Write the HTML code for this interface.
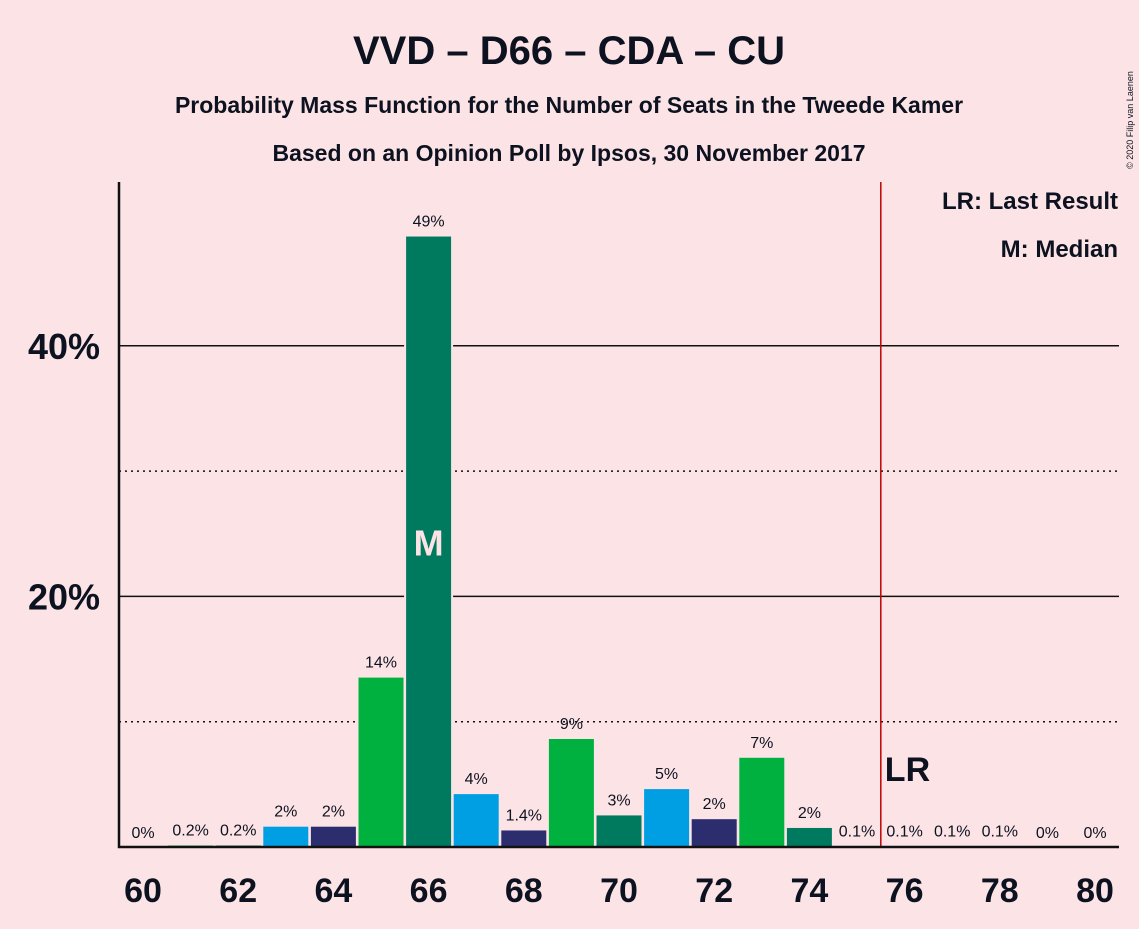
<!DOCTYPE html>
<html><head><meta charset="utf-8"><style>
body{margin:0;background:#FCE4E6;font-family:"Liberation Sans",sans-serif}
svg text{font-family:"Liberation Sans",sans-serif;fill:#0d1220}
</style></head><body>
<svg id="c" width="1139" height="924" xmlns="http://www.w3.org/2000/svg">
<rect width="1139" height="924" fill="#FCE4E6"/>
<text x="569" y="64" text-anchor="middle" font-size="40" font-weight="bold">VVD – D66 – CDA – CU</text>
<text x="569" y="113" text-anchor="middle" font-size="23" font-weight="bold">Probability Mass Function for the Number of Seats in the Tweede Kamer</text>
<text x="569" y="161" text-anchor="middle" font-size="23" font-weight="bold">Based on an Opinion Poll by Ipsos, 30 November 2017</text>
<text x="1133" y="120" font-size="9" transform="rotate(-90 1133 120)" text-anchor="middle">© 2020 Filip van Laenen</text>
<text x="1118" y="209" text-anchor="end" font-size="24" font-weight="bold">LR: Last Result</text>
<text x="1118" y="257" text-anchor="end" font-size="24" font-weight="bold">M: Median</text>
<g id="grid"></g><g id="bars"></g><g id="labels"></g>
</svg>
<script>
const seats=[60,61,62,63,64,65,66,67,68,69,70,71,72,73,74,75,76,77,78,79,80];
const probs=[0,0.2,0.2,1.7,1.7,13.6,48.8,4.3,1.4,8.7,2.6,4.7,2.3,7.2,1.6,0.1,0.1,0.1,0.1,0,0];
const valueLabels=["0%","0.2%","0.2%","2%","2%","14%","49%","4%","1.4%","9%","3%","5%","2%","7%","2%","0.1%","0.1%","0.1%","0.1%","0%","0%"];
const yTicks=[20,40];
const yDotted=[10,30];
const xTicks=[60,62,64,66,68,70,72,74,76,78,80];
const lastResult=76, median=66;
const colors=["#00B140","#007A5E","#009FE3","#2B2D6E"];
const NS="http://www.w3.org/2000/svg";
const x=s=>143+(s-60)*47.6;
const y=v=>847-v*12.53;
function mk(t,a,p){const e=document.createElementNS(NS,t);for(const k in a)e.setAttribute(k,a[k]);p.appendChild(e);return e;}
const g=document.getElementById('grid'),b=document.getElementById('bars'),l=document.getElementById('labels');
yDotted.forEach(v=>{const e=mk('line',{x1:119,x2:1119,y1:y(v),y2:y(v),stroke:'#111','stroke-width':1.5,'stroke-dasharray':'2,4'},g);

});
yTicks.forEach(v=>{const e=mk('line',{x1:119,x2:1119,y1:y(v),y2:y(v),stroke:'#111','stroke-width':1.5},g);


const t=mk('text',{x:100,y:y(v)+13,'text-anchor':'end','font-size':36,'font-weight':'bold'},l);t.textContent=v+'%';

});
seats.forEach((s,i)=>{
 const c=colors[((s-61)%4+4)%4];
 if(probs[i]>0){const r=mk('rect',{x:x(s)-23.5,y:y(probs[i]),width:47,height:847-y(probs[i]),fill:c,stroke:'#FCE4E6','stroke-width':2},b);
 
 }
 const t=mk('text',{x:x(s),y:y(probs[i])-9,'text-anchor':'middle','font-size':16},l);t.textContent=valueLabels[i];
 
 
 if(s===median){const m=mk('text',{x:x(s),y:y(probs[i]/2)+14,'text-anchor':'middle','font-size':36,'font-weight':'bold',style:'fill:#FCE4E6'},l);m.textContent='M';
 
 }
});
xTicks.forEach(s=>{const t=mk('text',{x:x(s),y:902,'text-anchor':'middle','font-size':34,'font-weight':'bold'},l);t.textContent=s;

});
const lx=x(lastResult-0.5);
const lr=mk('line',{x1:lx,x2:lx,y1:182,y2:847,stroke:'#C00000','stroke-width':1.5},l);


const lt=mk('text',{x:lx+4,y:781,'font-size':34,'font-weight':'bold'},l);lt.textContent='LR';


const ax=mk('path',{d:'M119,182 V847 H1119',fill:'none',stroke:'#111','stroke-width':2.5},l);


</script>
</body></html>
